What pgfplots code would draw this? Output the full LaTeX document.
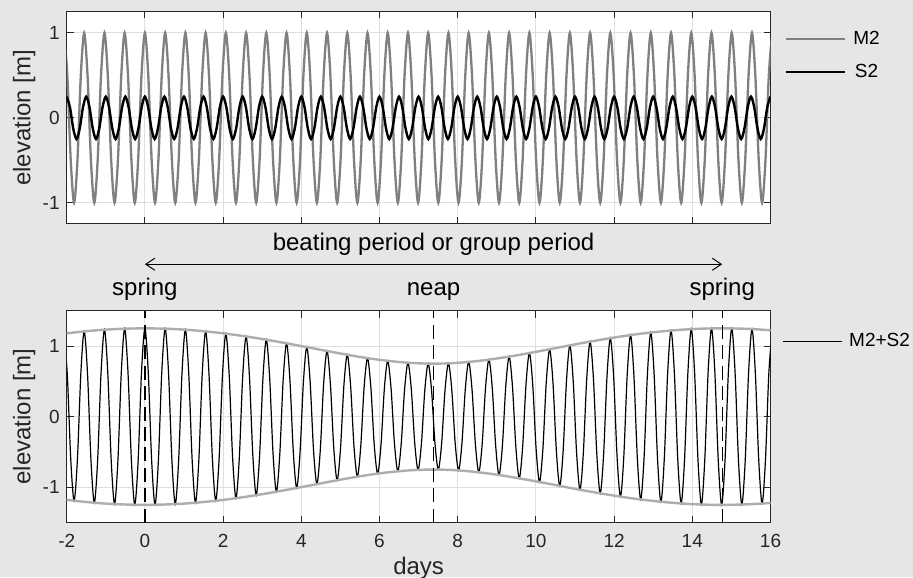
\documentclass[border=0pt]{standalone}
\usepackage{fontspec}
\setmainfont{Liberation Sans}
\usepackage{pgfplots}
\usepackage{pgfplotstable}
\pgfplotsset{compat=1.18}
\usetikzlibrary{arrows.meta}

\definecolor{figbg}{HTML}{E6E6E6}
\definecolor{axcol}{HTML}{262626}
\definecolor{gridcol}{HTML}{DFDFDF}
\definecolor{mgray}{HTML}{808080}
\definecolor{envgray}{HTML}{ADADAD}

% M2 and M2+S2 sampled every 1/6 of an M2 period (t in days)
\pgfplotstableread{
t m2 ms
-2.070 1 1.175
-1.984 0.5 0.588
-1.897 -0.5 -0.596
-1.811 -1 -1.192
-1.725 -0.5 -0.596
-1.639 0.5 0.604
-1.553 1 1.207
-1.467 0.5 0.604
-1.380 -0.5 -0.610
-1.294 -1 -1.220
-1.208 -0.5 -0.610
-1.122 0.5 0.616
-1.035 1 1.231
-0.949 0.5 0.616
-0.862 -0.5 -0.620
-0.776 -1 -1.239
-0.690 -0.5 -0.620
-0.604 0.5 0.623
-0.518 1 1.245
-0.432 0.5 0.623
-0.345 -0.5 -0.625
-0.259 -1 -1.249
-0.173 -0.5 -0.625
-0.087 0.5 0.625
0.000 1 1.250
0.086 0.5 0.625
0.173 -0.5 -0.625
0.259 -1 -1.249
0.345 -0.5 -0.625
0.431 0.5 0.623
0.518 1 1.245
0.604 0.5 0.623
0.691 -0.5 -0.620
0.777 -1 -1.239
0.863 -0.5 -0.620
0.949 0.5 0.616
1.035 1 1.231
1.121 0.5 0.616
1.208 -0.5 -0.610
1.294 -1 -1.220
1.380 -0.5 -0.610
1.466 0.5 0.604
1.553 1 1.207
1.639 0.5 0.604
1.726 -0.5 -0.596
1.812 -1 -1.192
1.898 -0.5 -0.596
1.984 0.5 0.588
2.070 1 1.175
2.156 0.5 0.588
2.243 -0.5 -0.578
2.329 -1 -1.156
2.415 -0.5 -0.578
2.501 0.5 0.568
2.588 1 1.135
2.674 0.5 0.568
2.761 -0.5 -0.557
2.847 -1 -1.113
2.933 -0.5 -0.557
3.019 0.5 0.545
3.105 1 1.089
3.191 0.5 0.545
3.278 -0.5 -0.532
3.364 -1 -1.064
3.450 -0.5 -0.532
3.536 0.5 0.519
3.623 1 1.038
3.709 0.5 0.519
3.796 -0.5 -0.506
3.882 -1 -1.011
3.968 -0.5 -0.506
4.054 0.5 0.492
4.140 1 0.984
4.226 0.5 0.492
4.313 -0.5 -0.478
4.399 -1 -0.956
4.485 -0.5 -0.478
4.571 0.5 0.465
4.658 1 0.929
4.744 0.5 0.465
4.831 -0.5 -0.451
4.917 -1 -0.902
5.003 -0.5 -0.451
5.089 0.5 0.438
5.175 1 0.876
5.261 0.5 0.438
5.348 -0.5 -0.426
5.434 -1 -0.851
5.520 -0.5 -0.426
5.606 0.5 0.414
5.693 1 0.828
5.779 0.5 0.414
5.866 -0.5 -0.404
5.952 -1 -0.808
6.038 -0.5 -0.404
6.124 0.5 0.395
6.210 1 0.790
6.296 0.5 0.395
6.383 -0.5 -0.387
6.469 -1 -0.774
6.555 -0.5 -0.387
6.641 0.5 0.382
6.728 1 0.763
6.814 0.5 0.382
6.901 -0.5 -0.378
6.987 -1 -0.755
7.073 -0.5 -0.378
7.159 0.5 0.376
7.245 1 0.751
7.331 0.5 0.376
7.418 -0.5 -0.375
7.504 -1 -0.750
7.590 -0.5 -0.375
7.676 0.5 0.377
7.763 1 0.754
7.849 0.5 0.377
7.936 -0.5 -0.381
8.022 -1 -0.762
8.108 -0.5 -0.381
8.194 0.5 0.387
8.280 1 0.774
8.366 0.5 0.387
8.453 -0.5 -0.395
8.539 -1 -0.789
8.625 -0.5 -0.395
8.711 0.5 0.404
8.798 1 0.807
8.884 0.5 0.404
8.971 -0.5 -0.414
9.057 -1 -0.827
9.143 -0.5 -0.414
9.229 0.5 0.425
9.315 1 0.850
9.401 0.5 0.425
9.488 -0.5 -0.437
9.574 -1 -0.874
9.660 -0.5 -0.437
9.746 0.5 0.450
9.833 1 0.900
9.919 0.5 0.450
10.006 -0.5 -0.464
10.092 -1 -0.927
10.178 -0.5 -0.464
10.264 0.5 0.477
10.351 1 0.954
10.437 0.5 0.477
10.524 -0.5 -0.491
10.610 -1 -0.982
10.696 -0.5 -0.491
10.782 0.5 0.505
10.868 1 1.009
10.954 0.5 0.505
11.041 -0.5 -0.518
11.127 -1 -1.036
11.213 -0.5 -0.518
11.299 0.5 0.531
11.386 1 1.062
11.472 0.5 0.531
11.559 -0.5 -0.544
11.645 -1 -1.088
11.731 -0.5 -0.544
11.817 0.5 0.556
11.903 1 1.111
11.989 0.5 0.556
12.076 -0.5 -0.567
12.162 -1 -1.134
12.248 -0.5 -0.567
12.334 0.5 0.578
12.421 1 1.155
12.507 0.5 0.578
12.594 -0.5 -0.587
12.680 -1 -1.174
12.766 -0.5 -0.587
12.852 0.5 0.596
12.938 1 1.191
13.024 0.5 0.596
13.111 -0.5 -0.603
13.197 -1 -1.206
13.283 -0.5 -0.603
13.369 0.5 0.610
13.456 1 1.219
13.542 0.5 0.610
13.629 -0.5 -0.615
13.715 -1 -1.230
13.801 -0.5 -0.615
13.887 0.5 0.620
13.973 1 1.239
14.059 0.5 0.620
14.146 -0.5 -0.623
14.232 -1 -1.245
14.318 -0.5 -0.623
14.404 0.5 0.625
14.491 1 1.249
14.577 0.5 0.625
14.664 -0.5 -0.625
14.750 -1 -1.250
14.836 -0.5 -0.625
14.922 0.5 0.625
15.008 1 1.249
15.094 0.5 0.625
15.181 -0.5 -0.623
15.267 -1 -1.245
15.353 -0.5 -0.623
15.439 0.5 0.620
15.526 1 1.240
15.612 0.5 0.620
15.699 -0.5 -0.616
15.785 -1 -1.231
15.871 -0.5 -0.616
15.957 0.5 0.611
16.043 1 1.221
}\tidetab

% envelope of M2+S2
\pgfplotstableread{
t up lo
-2.070 1.175 -1.175
-1.553 1.207 -1.207
-1.035 1.231 -1.231
-0.518 1.245 -1.245
0.000 1.250 -1.250
0.518 1.245 -1.245
1.035 1.231 -1.231
1.553 1.207 -1.207
2.070 1.175 -1.175
2.588 1.135 -1.135
3.105 1.089 -1.089
3.623 1.038 -1.038
4.140 0.984 -0.984
4.658 0.929 -0.929
5.175 0.876 -0.876
5.693 0.828 -0.828
6.210 0.790 -0.790
6.728 0.763 -0.763
7.245 0.751 -0.751
7.763 0.754 -0.754
8.280 0.774 -0.774
8.798 0.807 -0.807
9.315 0.850 -0.850
9.833 0.900 -0.900
10.351 0.954 -0.954
10.868 1.009 -1.009
11.386 1.062 -1.062
11.903 1.111 -1.111
12.421 1.155 -1.155
12.938 1.191 -1.191
13.456 1.219 -1.219
13.973 1.239 -1.239
14.491 1.249 -1.249
15.008 1.249 -1.249
15.526 1.240 -1.240
16.043 1.221 -1.221
}\envtab

\pgfplotsset{
  tideaxis/.style={
    scale only axis, width=351.9pt,
    xmin=-2, xmax=16, xtick={-2,0,...,16},
    ytick={-1,0,1},
    axis background/.style={fill=white},
    axis line style={axcol, line width=0.5pt},
    tick align=inside, tick pos=both, major tick length=3.4pt,
    tick style={axcol, line width=0.5pt},
    grid=major, major grid style={gridcol, line width=0.5pt},
    tick label style={font=\fontsize{9.5}{11}\selectfont, text=axcol},
    label style={font=\fontsize{12}{14}\selectfont, text=axcol},
    /pgf/number format/assume math mode=true,
    ylabel={elevation [m]},
    ylabel style={at={(axis description cs:-0.0604,0.5)}, anchor=center},
    legend image code/.code={\draw[##1] (0pt,0pt) -- (29.5pt,0pt);},
    legend style={draw=none, fill=none, inner sep=0pt, outer sep=0pt,
      anchor=north west, font=\fontsize{9.5}{11}\selectfont,
      row sep=8.5pt, column sep=3.5pt, nodes={inner sep=0pt}},
  }
}

\begin{document}
\begin{tikzpicture}[x=1pt,y=1pt]
\useasboundingbox (0,0) rectangle (456.5,288.5);
\fill[figbg] (0,0) rectangle (456.5,288.5);

% top: the two constituents
\begin{axis}[tideaxis, at={(33.35pt,176.5pt)}, anchor=south west,
    height=106.15pt, ymin=-1.25, ymax=1.25, xticklabels={},
    legend style={at={(1,1)}, xshift=7.25pt, yshift=-9.6pt}]
  \addplot[mgray, line width=1.15pt, smooth] table[x=t, y=m2] {\tidetab};
  \addlegendentry{M2}
  \addplot[black, line width=1.2pt, smooth] coordinates {
    (-2,0.25) (-1.917,0.125) (-1.833,-0.125) (-1.75,-0.25) (-1.667,-0.125) (-1.583,0.125) (-1.5,0.25) (-1.417,0.125) (-1.333,-0.125) (-1.25,-0.25) (-1.167,-0.125) (-1.083,0.125)
    (-1,0.25) (-0.917,0.125) (-0.833,-0.125) (-0.75,-0.25) (-0.667,-0.125) (-0.583,0.125) (-0.5,0.25) (-0.417,0.125) (-0.333,-0.125) (-0.25,-0.25) (-0.167,-0.125) (-0.083,0.125)
    (0,0.25) (0.083,0.125) (0.167,-0.125) (0.25,-0.25) (0.333,-0.125) (0.417,0.125) (0.5,0.25) (0.583,0.125) (0.667,-0.125) (0.75,-0.25) (0.833,-0.125) (0.917,0.125)
    (1,0.25) (1.083,0.125) (1.167,-0.125) (1.25,-0.25) (1.333,-0.125) (1.417,0.125) (1.5,0.25) (1.583,0.125) (1.667,-0.125) (1.75,-0.25) (1.833,-0.125) (1.917,0.125)
    (2,0.25) (2.083,0.125) (2.167,-0.125) (2.25,-0.25) (2.333,-0.125) (2.417,0.125) (2.5,0.25) (2.583,0.125) (2.667,-0.125) (2.75,-0.25) (2.833,-0.125) (2.917,0.125)
    (3,0.25) (3.083,0.125) (3.167,-0.125) (3.25,-0.25) (3.333,-0.125) (3.417,0.125) (3.5,0.25) (3.583,0.125) (3.667,-0.125) (3.75,-0.25) (3.833,-0.125) (3.917,0.125)
    (4,0.25) (4.083,0.125) (4.167,-0.125) (4.25,-0.25) (4.333,-0.125) (4.417,0.125) (4.5,0.25) (4.583,0.125) (4.667,-0.125) (4.75,-0.25) (4.833,-0.125) (4.917,0.125)
    (5,0.25) (5.083,0.125) (5.167,-0.125) (5.25,-0.25) (5.333,-0.125) (5.417,0.125) (5.5,0.25) (5.583,0.125) (5.667,-0.125) (5.75,-0.25) (5.833,-0.125) (5.917,0.125)
    (6,0.25) (6.083,0.125) (6.167,-0.125) (6.25,-0.25) (6.333,-0.125) (6.417,0.125) (6.5,0.25) (6.583,0.125) (6.667,-0.125) (6.75,-0.25) (6.833,-0.125) (6.917,0.125)
    (7,0.25) (7.083,0.125) (7.167,-0.125) (7.25,-0.25) (7.333,-0.125) (7.417,0.125) (7.5,0.25) (7.583,0.125) (7.667,-0.125) (7.75,-0.25) (7.833,-0.125) (7.917,0.125)
    (8,0.25) (8.083,0.125) (8.167,-0.125) (8.25,-0.25) (8.333,-0.125) (8.417,0.125) (8.5,0.25) (8.583,0.125) (8.667,-0.125) (8.75,-0.25) (8.833,-0.125) (8.917,0.125)
    (9,0.25) (9.083,0.125) (9.167,-0.125) (9.25,-0.25) (9.333,-0.125) (9.417,0.125) (9.5,0.25) (9.583,0.125) (9.667,-0.125) (9.75,-0.25) (9.833,-0.125) (9.917,0.125)
    (10,0.25) (10.083,0.125) (10.167,-0.125) (10.25,-0.25) (10.333,-0.125) (10.417,0.125) (10.5,0.25) (10.583,0.125) (10.667,-0.125) (10.75,-0.25) (10.833,-0.125) (10.917,0.125)
    (11,0.25) (11.083,0.125) (11.167,-0.125) (11.25,-0.25) (11.333,-0.125) (11.417,0.125) (11.5,0.25) (11.583,0.125) (11.667,-0.125) (11.75,-0.25) (11.833,-0.125) (11.917,0.125)
    (12,0.25) (12.083,0.125) (12.167,-0.125) (12.25,-0.25) (12.333,-0.125) (12.417,0.125) (12.5,0.25) (12.583,0.125) (12.667,-0.125) (12.75,-0.25) (12.833,-0.125) (12.917,0.125)
    (13,0.25) (13.083,0.125) (13.167,-0.125) (13.25,-0.25) (13.333,-0.125) (13.417,0.125) (13.5,0.25) (13.583,0.125) (13.667,-0.125) (13.75,-0.25) (13.833,-0.125) (13.917,0.125)
    (14,0.25) (14.083,0.125) (14.167,-0.125) (14.25,-0.25) (14.333,-0.125) (14.417,0.125) (14.5,0.25) (14.583,0.125) (14.667,-0.125) (14.75,-0.25) (14.833,-0.125) (14.917,0.125)
    (15,0.25) (15.083,0.125) (15.167,-0.125) (15.25,-0.25) (15.333,-0.125) (15.417,0.125) (15.5,0.25) (15.583,0.125) (15.667,-0.125) (15.75,-0.25) (15.833,-0.125) (15.917,0.125)
    (16,0.25)
  };
  \addlegendentry{S2}
\end{axis}

% bottom: the sum, with its envelope
\begin{axis}[tideaxis, at={(33.35pt,27.25pt)}, anchor=south west,
    height=105.9pt, ymin=-1.5, ymax=1.5,
    xlabel={days},
    xlabel style={at={(axis description cs:0.5,0)}, anchor=base, yshift=-25.9pt},
    xticklabel style={anchor=base, yshift=-12.4pt},
    clip mode=individual,
    legend style={at={(1,1)}, xshift=5.75pt, yshift=-11.25pt}]
  \addplot[black, line width=0.6pt, smooth] table[x=t, y=ms] {\tidetab};
  \addlegendentry{M2+S2}
  \addplot[envgray, line width=1.2pt, smooth, forget plot] table[x=t, y=up] {\envtab};
  \addplot[envgray, line width=1.2pt, smooth, forget plot] table[x=t, y=lo] {\envtab};
  \addplot[black, line width=0.6pt, dash pattern=on 7pt off 3.2pt, forget plot] coordinates {(0,-1.5) (0,1.5)};
  \addplot[black, line width=0.6pt, dash pattern=on 7pt off 3.2pt, forget plot] coordinates {(7.383,-1.5) (7.383,1.5)};
  \addplot[black, line width=0.6pt, dash pattern=on 7pt off 3.2pt, forget plot] coordinates {(14.765,-1.5) (14.765,1.5)};

  \draw[black, line width=0.5pt, {Straight Barb[length=4.5pt,width=6pt]}-{Straight Barb[length=4.5pt,width=6pt]}]
    (axis cs:0,2.158) -- (axis cs:14.765,2.158);
  \node[anchor=base, font=\fontsize{12}{14}\selectfont] at (axis cs:7.383,2.346) {beating period or group period};
  \node[anchor=base, font=\fontsize{12}{14}\selectfont] at (axis cs:0,1.712) {spring};
  \node[anchor=base, font=\fontsize{12}{14}\selectfont] at (axis cs:7.383,1.712) {neap};
  \node[anchor=base, font=\fontsize{12}{14}\selectfont] at (axis cs:14.765,1.712) {spring};
\end{axis}
\end{tikzpicture}
\end{document}
